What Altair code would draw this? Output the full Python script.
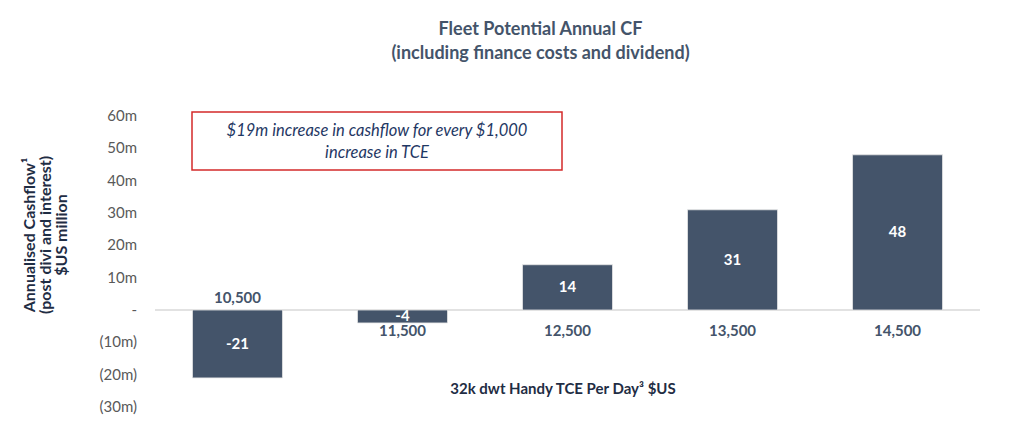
import altair as alt
import pandas as pd

categories = ["10,500", "11,500", "12,500", "13,500", "14,500"]
cashflow = [-21, -4, 14, 31, 48]
value_labels = ["-21", "-4", "14", "31", "48"]
y_ticks = [-30, -20, -10, 0, 10, 20, 30, 40, 50, 60]
y_tick_labels = ["(30m)", "(20m)", "(10m)", "-", "10m", "20m", "30m", "40m", "50m", "60m"]

title_lines = ["Fleet Potential Annual CF", "(including finance costs and dividend)"]
y_title_lines = ["Annualised Cashflow\u00b9", "(post divi and interest)", "$US million"]
x_title = "32k dwt Handy TCE Per Day\u00b3 $US"
note_lines = ["$19m increase in cashflow for every $1,000", "increase in TCE"]

df = pd.DataFrame({"tce": categories, "cf": cashflow, "lbl": value_labels})
ticks_df = pd.DataFrame({"v": y_ticks, "t": y_tick_labels})

FONT = "Lato"
BAR = "#44546a"
NAVY = "#1f2d44"

x_enc = alt.X("tce:N", sort=categories,
              scale=alt.Scale(paddingInner=0.4545, paddingOuter=0.227),
              axis=None)
y_scale = alt.Scale(domain=[-30, 60], nice=False, zero=False)

base = alt.Chart(df)

zero_line = alt.Chart(pd.DataFrame({"v": [0]})).mark_rule(
    color="#d9d9d9", strokeWidth=1.5
).encode(
    y=alt.Y("v:Q", scale=y_scale, axis=None),
    x=alt.value(0), x2=alt.value(825),
)

tick_labels = alt.Chart(ticks_df).mark_text(
    font=FONT, fontSize=15, color="#595959", align="right", baseline="middle"
).encode(
    y=alt.Y("v:Q", scale=y_scale, axis=None),
    x=alt.value(-18),
    text="t:N",
)

y_title = alt.Chart(pd.DataFrame({"t": [y_title_lines]})).mark_text(
    font=FONT, fontSize=16, fontWeight="bold", color=NAVY, angle=270,
    lineHeight=16, align="center", baseline="middle"
).encode(x=alt.value(-125), y=alt.value(119), text="t")

bars = base.mark_bar(color=BAR, stroke="#e6e6e6", strokeWidth=0.8).encode(
    x=x_enc,
    y=alt.Y("cf:Q", scale=y_scale, axis=None),
    y2=alt.datum(0),
)

vals = base.transform_calculate(mid="datum.cf / 2").mark_text(
    font=FONT, fontSize=15, fontWeight="bold", color="white", baseline="middle"
).encode(
    x=x_enc,
    y=alt.Y("mid:Q", scale=y_scale, axis=None),
    text="lbl:N",
)

cat_above = base.transform_filter(alt.datum.tce == categories[0]).mark_text(
    font=FONT, fontSize=15, fontWeight="bold", color=BAR, baseline="bottom", dy=-4
).encode(x=x_enc, y=alt.datum(0), text="tce:N")

cat_below = base.transform_filter(alt.datum.tce != categories[0]).mark_text(
    font=FONT, fontSize=15, fontWeight="bold", color=BAR, baseline="top", dy=14
).encode(x=x_enc, y=alt.datum(0), text="tce:N")

xt = alt.Chart(pd.DataFrame({"t": [x_title]})).mark_text(
    font=FONT, fontSize=15, fontWeight="bold", color=NAVY, baseline="middle"
).encode(x=alt.value(408), y=alt.value(273), text="t:N")

box = alt.Chart(pd.DataFrame({"a": [1]})).mark_rect(
    fill="white", stroke="#d42a2a", strokeWidth=1.5
).encode(x=alt.value(37), x2=alt.value(407), y=alt.value(-4), y2=alt.value(54))

note = alt.Chart(pd.DataFrame({"t": [note_lines]})).mark_text(
    font=FONT, fontSize=16.5, fontStyle="italic", color="#1f3864",
    lineHeight=22, baseline="middle"
).encode(x=alt.value(222), y=alt.value(15), text="t")

chart = alt.layer(zero_line, tick_labels, y_title, bars, vals, cat_above, cat_below,
                  xt, box, note).properties(
    width=825, height=291,
    background="white",
    title=alt.TitleParams(text=title_lines, font=FONT, fontSize=18, fontWeight="bold",
                          color="#44546a", anchor="middle", frame="group",
                          offset=46, dx=-27, lineHeight=24),
    padding={"left": 147, "top": 108, "right": 20, "bottom": 10},
    autosize=alt.AutoSizeParams(type="none"),
).configure_view(strokeWidth=0)

chart.save("out.html", embed_options={"renderer": "svg", "actions": False})
